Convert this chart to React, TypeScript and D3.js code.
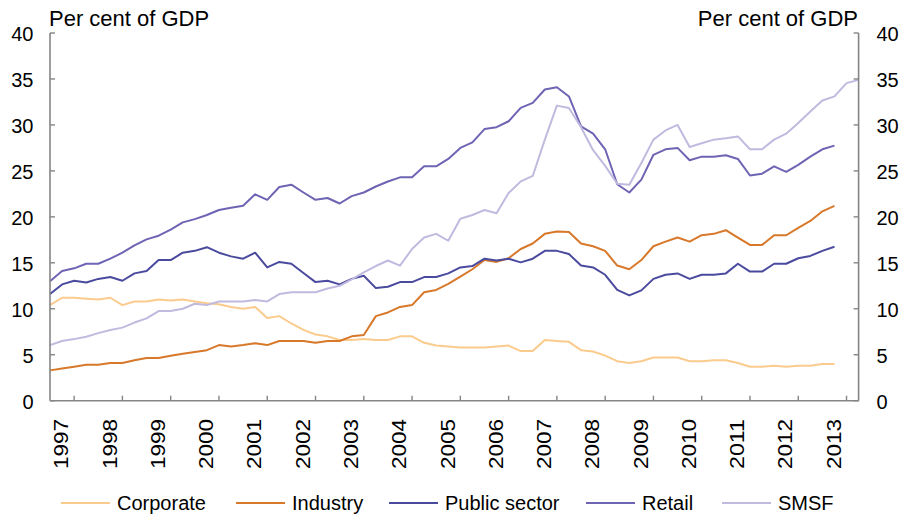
import React from "react";
import * as d3 from "d3";

// Quarterly observations; index 0 is the first quarter shown
const years = [1997, 1998, 1999, 2000, 2001, 2002, 2003, 2004, 2005, 2006, 2007, 2008, 2009, 2010, 2011, 2012, 2013];
const yTicks = [0, 5, 10, 15, 20, 25, 30, 35, 40];

const corporate = [
  10.4, 11.2, 11.2, 11.1, 11.0, 11.2, 10.4, 10.8, 10.8, 11.0, 10.9, 11.0, 10.8, 10.6, 10.5, 10.2,
  10.0, 10.2, 9.0, 9.2, 8.4, 7.7, 7.2, 7.0, 6.6, 6.6, 6.7, 6.6, 6.6, 7.0, 7.0, 6.3,
  6.0, 5.9, 5.8, 5.8, 5.8, 5.9, 6.0, 5.4, 5.4, 6.6, 6.5, 6.4, 5.5, 5.35, 4.9, 4.3,
  4.1, 4.3, 4.7, 4.7, 4.7, 4.3, 4.3, 4.4, 4.4, 4.1, 3.7, 3.7, 3.8, 3.7, 3.8, 3.8,
  4.0, 4.0,
];
const industry = [
  3.3, 3.5, 3.7, 3.9, 3.9, 4.1, 4.1, 4.4, 4.65, 4.65, 4.9, 5.1, 5.3, 5.5, 6.05, 5.9,
  6.05, 6.25, 6.05, 6.5, 6.5, 6.5, 6.3, 6.5, 6.5, 7.0, 7.15, 9.2, 9.6, 10.2, 10.4, 11.8,
  12.05, 12.7, 13.5, 14.3, 15.3, 15.1, 15.5, 16.5, 17.1, 18.15, 18.4, 18.35, 17.1, 16.8, 16.3, 14.7,
  14.3, 15.3, 16.8, 17.3, 17.75, 17.3, 18.0, 18.15, 18.55, 17.75, 16.95, 16.95, 18.0, 18.0, 18.8, 19.55,
  20.6, 21.2,
];
const publicSector = [
  11.6, 12.65, 13.05, 12.85, 13.25, 13.45, 13.05, 13.85, 14.1, 15.3, 15.3, 16.1, 16.3, 16.7, 16.1, 15.7,
  15.45, 16.1, 14.5, 15.1, 14.9, 13.9, 12.9, 13.05, 12.65, 13.25, 13.6, 12.25, 12.4, 12.9, 12.9, 13.45,
  13.45, 13.85, 14.5, 14.65, 15.45, 15.25, 15.45, 15.05, 15.45, 16.3, 16.3, 15.95, 14.7, 14.5, 13.7, 12.05,
  11.45, 12.0, 13.25, 13.7, 13.85, 13.25, 13.7, 13.7, 13.85, 14.9, 14.05, 14.05, 14.9, 14.9, 15.5, 15.75,
  16.3, 16.75,
];
const retail = [
  13.0, 14.1, 14.4, 14.9, 14.9, 15.45, 16.1, 16.9, 17.55, 17.95, 18.6, 19.4, 19.75, 20.2, 20.75, 21.0,
  21.2, 22.45, 21.85, 23.25, 23.5, 22.65, 21.85, 22.05, 21.45, 22.25, 22.65, 23.3, 23.85, 24.3, 24.3, 25.5,
  25.5, 26.3, 27.5, 28.1, 29.55, 29.75, 30.4, 31.85, 32.4, 33.85, 34.1, 33.1, 29.85, 29.05, 27.35, 23.55,
  22.65, 24.05, 26.75, 27.35, 27.5, 26.15, 26.55, 26.55, 26.7, 26.3, 24.5, 24.7, 25.5, 24.9, 25.65, 26.55,
  27.35, 27.75,
];
const smsf = [
  6.05, 6.5, 6.7, 6.95, 7.35, 7.7, 7.95, 8.5, 8.95, 9.75, 9.75, 10.0, 10.55, 10.4, 10.8, 10.8,
  10.8, 10.95, 10.8, 11.6, 11.8, 11.8, 11.8, 12.2, 12.5, 13.2, 13.95, 14.65, 15.25, 14.7, 16.5, 17.75,
  18.15, 17.4, 19.8, 20.2, 20.75, 20.4, 22.6, 23.85, 24.45, 28.4, 32.1, 31.85, 29.75, 27.25, 25.55, 23.6,
  23.5, 25.85, 28.4, 29.4, 30.0, 27.6, 28.0, 28.4, 28.55, 28.75, 27.35, 27.35, 28.4, 29.05, 30.2, 31.45,
  32.65, 33.1, 34.55, 34.9,
];

const seriesNames = ["Corporate", "Industry", "Public sector", "Retail", "SMSF"];
const seriesValues = [corporate, industry, publicSector, retail, smsf];
const seriesColors = ["#FBCB8E", "#D7782A", "#4A4A9E", "#6E64B4", "#C0BADF"];

const W = 902;
const H = 517;
const left = 50;
const right = 858.6;
const top = 33;
const bottom = 400.7;
const font = "Arial, 'Liberation Sans', Helvetica, sans-serif";
const legendStarts = [61, 236, 389, 586, 722];

export default function App() {
  const x = d3.scaleLinear().domain([0, 67]).range([left, right]);
  const y = d3.scaleLinear().domain([0, 40]).range([bottom, top]);
  const line = d3
    .line<number>()
    .x((_, i) => x(i))
    .y((d) => y(d));
  const axisColor = "#858585";

  return (
    <svg
      width={W}
      height={H}
      style={{ position: "absolute", left: 0, top: 0, background: "#fff" }}
      fontFamily={font}
    >
      <rect x={0} y={0} width={W} height={H} fill="#fff" />
      {/* titles */}
      <text x={49} y={26} fontSize={22} fill="#000">
        Per cent of GDP
      </text>
      <text x={858} y={26} fontSize={22} fill="#000" textAnchor="end">
        Per cent of GDP
      </text>

      {/* series */}
      {seriesValues.map((vals, i) => (
        <path
          key={seriesNames[i]}
          d={line(vals) || ""}
          fill="none"
          stroke={seriesColors[i]}
          strokeWidth={2}
          strokeLinejoin="round"
        />
      ))}

      {/* axes */}
      <line x1={left} x2={left} y1={top} y2={bottom} stroke={axisColor} strokeWidth={1.6} />
      <line x1={right} x2={right} y1={top} y2={bottom} stroke={axisColor} strokeWidth={1.6} />
      <line x1={left} x2={right} y1={bottom} y2={bottom} stroke={axisColor} strokeWidth={1.6} />
      {yTicks.map((t) => (
        <g key={t}>
          <line x1={left} x2={left + 5} y1={y(t)} y2={y(t)} stroke={axisColor} strokeWidth={1.4} />
          <line x1={right - 5} x2={right} y1={y(t)} y2={y(t)} stroke={axisColor} strokeWidth={1.4} />
          <text x={33.5} y={y(t)} dy="0.42em" fontSize={20} textAnchor="end" fill="#000">
            {t}
          </text>
          <text x={876.5} y={y(t)} dy="0.42em" fontSize={20} textAnchor="start" fill="#000">
            {t}
          </text>
        </g>
      ))}
      {years.map((yr, k) => {
        const tx = x(2 + 4 * k);
        return (
          <g key={yr}>
            <line x1={tx} x2={tx} y1={bottom} y2={bottom - 5} stroke={axisColor} strokeWidth={1.4} />
            <text
              transform={`translate(${tx - 13},419) rotate(-90)`}
              dy="0.36em"
              fontSize={20}
              textAnchor="end"
              textLength={50}
              lengthAdjust="spacingAndGlyphs"
              fill="#000"
            >
              {yr}
            </text>
          </g>
        );
      })}

      {/* legend */}
      {seriesNames.map((name, i) => (
        <g key={name}>
          <line
            x1={legendStarts[i]}
            x2={legendStarts[i] + 49}
            y1={503}
            y2={503}
            stroke={seriesColors[i]}
            strokeWidth={2}
          />
          <text x={legendStarts[i] + 56} y={503} dy="0.36em" fontSize={20} fill="#000">
            {name}
          </text>
        </g>
      ))}
    </svg>
  );
}
